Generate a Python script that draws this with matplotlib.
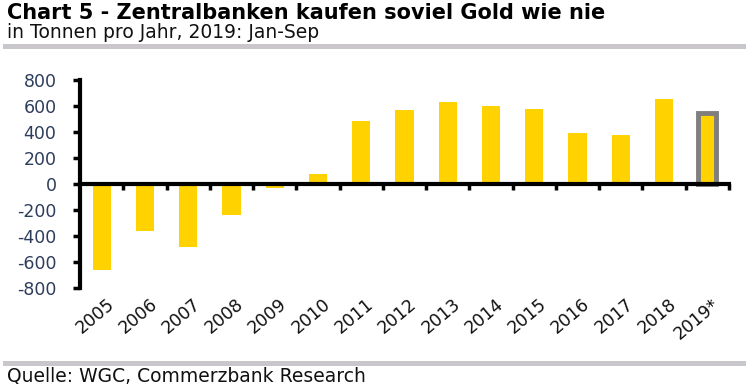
import matplotlib.pyplot as plt
from matplotlib.lines import Line2D
import matplotlib.transforms as mtransforms

plt.rcParams['font.family'] = ['DejaVu Sans']

years = ["2005", "2006", "2007", "2008", "2009", "2010", "2011", "2012",
         "2013", "2014", "2015", "2016", "2017", "2018", "2019*"]
tonnes = [-663, -365, -484, -235, -34, 79, 481, 569, 629, 601, 580, 395, 379, 656, 547]
y_ticks = [-800, -600, -400, -200, 0, 200, 400, 600, 800]

gold = '#FFD200'
grey_line = '#c9c7cc'

fig = plt.figure(figsize=(7.46, 3.84), dpi=100)
ax = fig.add_axes([80 / 746, 1 - 288 / 384, 649 / 746, 208 / 384])

x = list(range(len(years)))
bars = ax.bar(x, tonnes, width=0.42, color=gold, zorder=2)
# last year only Jan-Sep -> grey frame
bars[-1].set_edgecolor('#7f7f7f')
bars[-1].set_linewidth(3.5)

ax.set_xlim(-0.5, len(years) - 0.5)
ax.set_ylim(-800, 800)
ax.set_yticks(y_ticks)
ax.set_yticklabels([str(v) for v in y_ticks], fontsize=12.5, color='#2e3d5c')
ax.tick_params(axis='y', direction='out', length=5, width=2.5, pad=12)

for s in ['top', 'right']:
    ax.spines[s].set_visible(False)
ax.spines['left'].set_linewidth(3)
ax.spines['bottom'].set_position(('data', 0))
ax.spines['bottom'].set_linewidth(3)
ax.spines['bottom'].set_zorder(3)

# ticks between categories on the zero line
ax.set_xticks([i + 0.5 for i in x])
ax.set_xticklabels([])
ax.tick_params(axis='x', direction='out', length=4, width=2.5)

trans = mtransforms.blended_transform_factory(ax.transData, ax.transAxes)
for i, lab in zip(x, years):
    ax.text(i + 0.1, -0.035, lab, transform=trans, rotation=40,
            ha='right', va='top', rotation_mode='anchor', fontsize=12.5,
            color='#111111')

fig.text(7 / 746, 1 - 19 / 384, "Chart 5 - Zentralbanken kaufen soviel Gold wie nie",
         fontsize=15, fontweight='bold', color='black')
fig.text(7 / 746, 1 - 38 / 384, "in Tonnen pro Jahr, 2019: Jan-Sep",
         fontsize=13.5, color='#111111')
fig.text(7 / 746, 1 - 381 / 384, "Quelle: WGC, Commerzbank Research",
         fontsize=13.5, color='#111111')

fig.add_artist(Line2D([5 / 746, 1], [1 - 45.5 / 384] * 2, color=grey_line,
                      linewidth=3.6, transform=fig.transFigure))
fig.add_artist(Line2D([5 / 746, 1], [1 - 363 / 384] * 2, color=grey_line,
                      linewidth=3.6, transform=fig.transFigure))

fig.savefig('out.png', dpi=100)
